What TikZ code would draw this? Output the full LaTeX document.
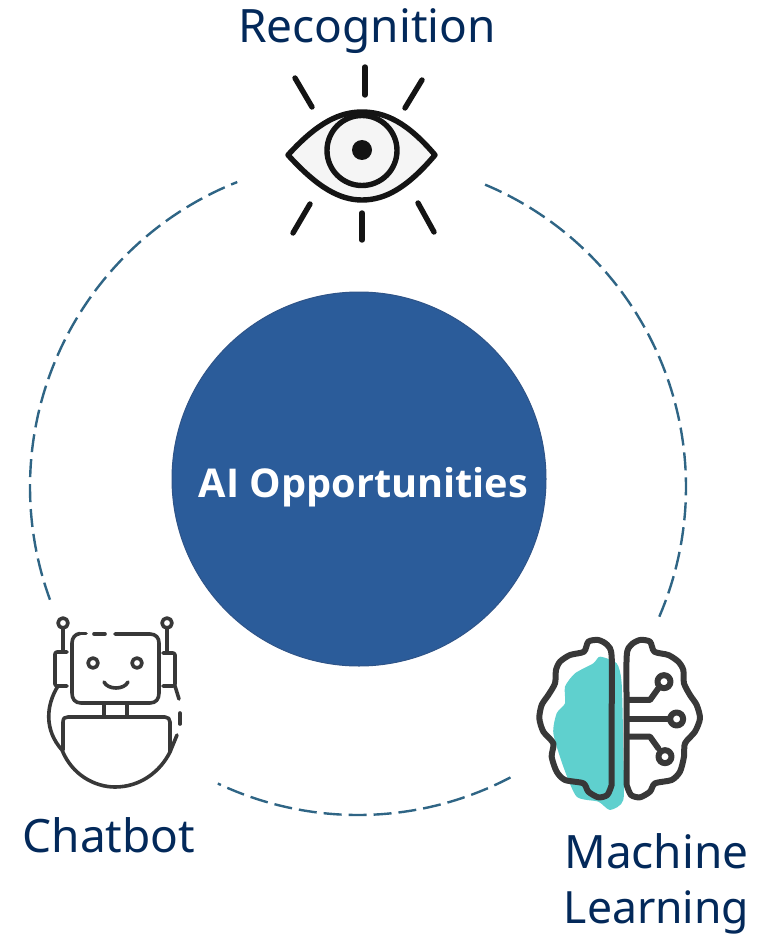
\documentclass[tikz,border=0pt]{standalone}
\usepackage{fontspec}
\setmainfont{Noto Sans}
\newfontfamily\hubfont{Open Sans}
\definecolor{navy}{HTML}{03295A}
\definecolor{hub}{HTML}{2B5C9A}
\definecolor{hubedge}{HTML}{2F5488}
\definecolor{ring}{HTML}{2F6585}
\definecolor{teal}{HTML}{5FD0CE}
\definecolor{ink}{HTML}{141414}
\definecolor{soft}{HTML}{383838}
\tikzset{
 label text/.style={text=navy,font=\fontsize{46}{54}\selectfont,anchor=base,inner sep=0pt},
 ringarc/.style={draw=ring,line width=2.4pt,dash pattern=on 18pt off 7pt,smooth,samples=90},
 eyeline/.style={draw=ink,line width=5.4pt,line cap=round,line join=round},
 botline/.style={draw=soft,line width=3.6pt,line cap=round,line join=round},
 brainline/.style={draw=soft,line width=6pt,line cap=round,line join=round},
}
\begin{document}
\begin{tikzpicture}[x=1pt,y=-1pt]
\useasboundingbox (0,0) rectangle (773,936);
% ring
\draw[ringarc,domain=-67.2:23.9] plot ({358+328*cos(\x)},{487+328*sin(\x)});
\draw[ringarc,domain=62.3:115.3] plot ({358+328*cos(\x)},{487+328*sin(\x)});
\draw[ringarc,domain=159.9:248.4] plot ({358+328*cos(\x)},{487+328*sin(\x)});
% hub
\node[circle,minimum size=374pt,inner sep=0pt,fill=hub,draw=hubedge,line width=1pt] (hub) at (359,479) {};
\node[text=white,font=\hubfont\bfseries\fontsize{39.7}{46}\selectfont,inner sep=0pt,anchor=base] (hubtext) at (363.5,497) {AI Opportunities};
% labels
\node[label text] (recog) at (367,43) {Recognition};
\node[label text] (chat) at (109,852) {Chatbot};
\node[label text] (ml1) at (656.5,868) {Machine};
\node[label text,font=\fontsize{44.5}{54}\selectfont] (ml2) at (656.5,923) {Learning};
% eye
\begin{scope}
\fill[black!4] (288,155) .. controls (318,122) and (340,112) .. (362,112) .. controls (385,112) and (407,122) .. (435,155) .. controls (407,188) and (385,200) .. (362,200) .. controls (340,200) and (318,188) .. (288,155) -- cycle;
\draw[eyeline] (288,155) .. controls (318,122) and (340,112) .. (362,112) .. controls (385,112) and (407,122) .. (435,155) .. controls (407,188) and (385,200) .. (362,200) .. controls (340,200) and (318,188) .. (288,155) -- cycle;
\draw[eyeline] (362,150.5) circle[radius=35pt];
\fill[ink] (362,150) circle[radius=10pt];
\draw[eyeline] (365,67) -- (365,95);
\draw[eyeline] (295,78) -- (312,107);
\draw[eyeline] (422,80) -- (405,108);
\draw[eyeline] (310,204) -- (293,233);
\draw[eyeline] (362,213) -- (362,240);
\draw[eyeline] (418,203) -- (434,232);
\end{scope}
% robot
\begin{scope}
\draw[botline] (63,623) circle[radius=5pt];
\draw[botline] (167,623) circle[radius=5pt];
\draw[botline] (63,628) -- (63,652);
\draw[botline] (167,628) -- (167,652);
\draw[botline] (81,633.5) -- (86,633.5);
\draw[botline] (94,634) -- (105,634);
\draw[botline] (115,634) -- (150,634) .. controls (156,634) and (159,638) .. (159,643) -- (159,693) .. controls (159,699) and (156,703) .. (150,703) -- (81,703) .. controls (75,703) and (72,699) .. (72,693) -- (72,643) .. controls (72,638) and (75,634) .. (80,633.5);
\draw[botline,rounded corners=2pt] (67,652) -- (55,652) -- (55,686) -- (67,686);
\draw[botline,rounded corners=2pt] (163,653) -- (175,653) -- (175,686) -- (163,686);
\draw[botline] (93,663) circle[radius=5pt];
\draw[botline] (137,663) circle[radius=5pt];
\draw[botline] (104,682) .. controls (108,690) and (124,690) .. (128,682);
\draw[botline] (104,703) -- (104,717);
\draw[botline] (127,703) -- (127,717);
\draw[botline] (63,750) -- (63,722) .. controls (63,718) and (65,717) .. (68,717) -- (165,717) .. controls (168,717) and (170,719) .. (170,722) -- (170,752);
\draw[botline] (58,686) .. controls (46,705) and (44,730) .. (62,750) .. controls (72,775) and (95,787) .. (115,787) .. controls (140,787) and (160,772) .. (170,752) -- (177,735);
\draw[botline] (175,686) -- (179,699);
\draw[botline] (180,713) -- (180,724);
\end{scope}
% brain
\begin{scope}[shift={(520,620)},x=0.3333pt,y=-0.3333pt]
\fill[teal] plot[smooth cycle,tension=0.4] coordinates {(240,110) (290,130) (305,190) (310,400) (310,540) (270,570) (235,545) (170,530) (130,440) (100,340) (110,280) (135,250) (135,200) (165,160) (220,130)};
\draw[brainline] plot[smooth,tension=0.45] coordinates {(275,495) (275,300) (275,110) (262,75) (235,60) (205,65) (192,95) (150,105) (120,125) (108,150) (105,190) (85,225) (65,255) (58,295) (70,335) (100,370) (95,410) (110,455) (135,480) (190,490) (205,515) (235,532) (262,525) (275,495)};
\draw[brainline] plot[smooth,tension=0.45] coordinates {(320,495) (320,300) (320,110) (333,75) (360,60) (390,65) (403,95) (445,105) (475,125) (490,150) (492,190) (510,225) (530,255) (540,295) (525,335) (495,370) (492,410) (480,455) (455,480) (405,490) (390,515) (360,532) (333,525) (320,495)};
\draw[brainline] (325,297) -- (450,297);
\draw[brainline] (325,240) -- (390,240) -- (415,205);
\draw[brainline] (325,350) -- (390,350) -- (415,385);
\draw[brainline] (470,297) circle[radius=6.5pt];
\draw[brainline] (432,185) circle[radius=6.5pt];
\draw[brainline] (435,410) circle[radius=6.5pt];
\end{scope}
\end{tikzpicture}
\end{document}
